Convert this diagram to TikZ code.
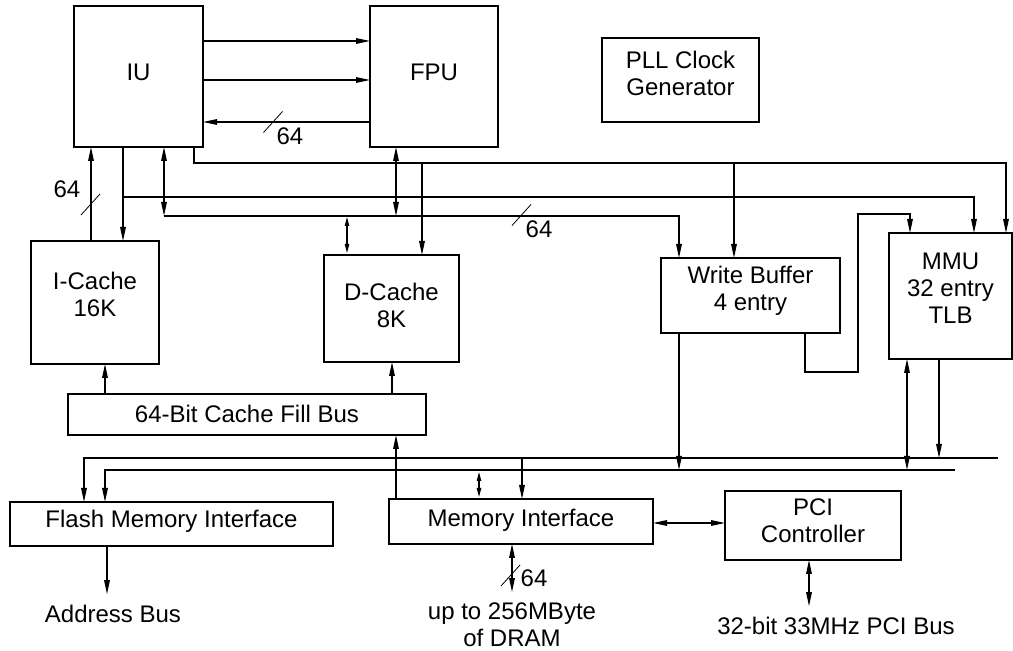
\documentclass[tikz,border=0pt]{standalone}
\usepackage{fontspec}
\setmainfont{Liberation Sans}
\usetikzlibrary{arrows.meta}
\newcommand{\wirewidth}{0.6pt}
\tikzset{
    common/.style={draw, rectangle, align=center, inner sep=0pt, outer sep=0pt},
    unit/.style 2 args={common, minimum width=#1*0.5pt, minimum height=#2*0.5pt},
    lifted/.style={align=center, inner sep=0pt, yshift=#1*0.5pt},
    small tips/.style={>={Triangle[length=4.5pt,width=2.2pt]}},
    buswidth/.pic={\draw[line width=0.4pt] (-9.5,10.5) -- (9.5,-10.5);},
    caption/.style={inner sep=0pt, outer sep=5.5pt, align=center},
}

\begin{document}
\begin{tikzpicture}[x=0.5pt, y=-0.5pt, font=\fontsize{12}{13.5}\selectfont,
    line width=\wirewidth, >={Triangle[length=7pt,width=2.8pt]}]
    \useasboundingbox (0,0) rectangle (1013,651);

    % blocks
    \node[unit={129}{141}, label={[lifted=4.5]center:IU}] (IU) at (138.5,76.5) {};
    \node[unit={128}{141}, label={[lifted=4.5]center:FPU}] (FPU) at (434,76.5) {};
    \node[unit={157}{84}, label={[lifted=6.5]center:PLL Clock\\Generator}] (PLL) at (680.5,80) {};
    \node[unit={128}{123}, label={[lifted=8]center:I-Cache\\16K}] (ICache) at (95,302.5) {};
    \node[unit={135}{107}, label={[lifted=3.5]center:D-Cache\\8K}] (DCache) at (391.5,308.5) {};
    \node[unit={179}{75}, label={[lifted=4.5]center:Write Buffer\\4 entry}] (WB) at (750.5,295.5) {};
    \node[unit={123}{126}, label={[lifted=8]center:MMU\\32 entry\\TLB}] (MMU) at (950.5,296) {};
    \node[unit={358}{41}, label={[lifted=1]center:64-Bit Cache Fill Bus}] (CFB) at (247,414.5) {};
    \node[unit={323}{44}, label={[lifted=2.5]center:Flash Memory Interface}] (Flash) at (171.5,524) {};
    \node[unit={264}{45}, label={[lifted=1.5]center:Memory Interface}] (MI) at (521,521.5) {};
    \node[unit={176}{69}, label={[lifted=4.5]center:PCI\\Controller}] (PCI) at (813,525.5) {};

    \node[caption] (AddrBus) at (113,614) {Address Bus};
    \node[caption] (DRAM) at (512,625) {up to 256MByte\\of DRAM};
    \node[caption] (PCIBus) at (836,626) {32-bit 33MHz PCI Bus};

    \coordinate (busA-right) at (998,458);
    \coordinate (busB-right) at (955,470);

    % IU <-> FPU
    \draw[->] (IU.east |- 0,41) -- (FPU.west |- 0,41);
    \draw[->] (IU.east |- 0,80) -- (FPU.west |- 0,80);
    \draw[->] (FPU.west |- 0,122) -- (IU.east |- 0,122);
    \pic at (273,122) {buswidth};
    \node (w-fpu) at (290,136) {64};

    % IU <-> I-Cache
    \draw[->] (91,0 |- ICache.north) -- (91,0 |- IU.south);
    \pic at (90.5,204.5) {buswidth};
    \node (w-icache) at (67,189) {64};
    \draw[->] (123,0 |- IU.south) -- (123,0 |- ICache.north);
    \draw[->] (123,197) -| (974,0 |- MMU.north);

    % data lines
    \draw[<->] (164,0 |- IU.south) -- (164,216);
    \draw[<->] (396,0 |- FPU.south) -- (396,216);
    \draw[->] (164,216) -| (679,0 |- WB.north);
    \pic at (521.5,215) {buswidth};
    \node (w-data) at (539,229) {64};
    \draw[<->, small tips, shorten <=0.5pt, shorten >=1pt] (347,216) -- (347,0 |- DCache.north);

    % address lines
    \draw[->] (194,0 |- IU.south) |- (1006,163) -- (1006,0 |- MMU.north);
    \draw[->] (422,163) -- (422,0 |- DCache.north);
    \draw[->] (734,163) -- (734,0 |- WB.north);
    \draw[->] (805,0 |- WB.south) |- (858,372) |- (910,214) -- (910,0 |- MMU.north);

    % cache fill bus
    \draw[->] (105,0 |- CFB.north) -- (105,0 |- ICache.south);
    \draw[->] (392,0 |- CFB.north) -- (392,0 |- DCache.south);
    \draw[->] (396,0 |- MI.north) -- (396,0 |- CFB.south);

    % system bus
    \draw[->] (busA-right) -| (84,0 |- Flash.north);
    \draw[->] (busB-right) -| (105,0 |- Flash.north);
    \draw[->] (679,0 |- WB.south) -- (679,0 |- busB-right);
    \draw[<->] (907,0 |- MMU.south) -- (907,0 |- busB-right);
    \draw[->] (939,0 |- MMU.south) -- (939,0 |- busA-right);
    \draw[<->, small tips, shorten <=1pt, shorten >=1pt] (479,0 |- busB-right) -- (479,0 |- MI.north);
    \draw[->] (522,0 |- busA-right) -- (522,0 |- MI.north);

    % external
    \draw[->] (107,0 |- Flash.south) -- (107,0 |- AddrBus.north);
    \draw[<->] (512,0 |- MI.south) -- (512,0 |- DRAM.north);
    \pic at (510.5,575.5) {buswidth};
    \node (w-dram) at (534,578) {64};
    \draw[<->] (MI.east |- 0,523) -- (PCI.west |- 0,523);
    \draw[<->] (809,0 |- PCI.south) -- (809,0 |- PCIBus.north);
\end{tikzpicture}
\end{document}
